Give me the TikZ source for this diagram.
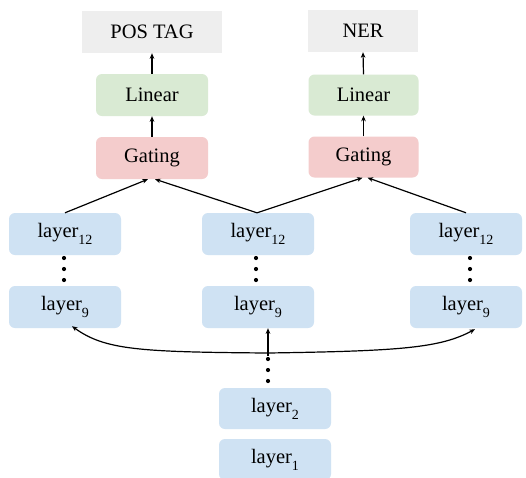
\documentclass[tikz,border=0pt]{standalone}
\usepackage{fontspec}
\setmainfont{Liberation Serif}
\usetikzlibrary{arrows.meta,calc}
\newcommand{\lsub}[1]{layer\raisebox{-0.35em}{\fontsize{14}{16}\selectfont #1}}
\begin{document}
\begin{tikzpicture}[x=1pt,y=-1pt,
  box/.style={inner sep=0pt, minimum width=112pt, minimum height=42pt, font=\fontsize{20.5}{24}\selectfont},
  outbox/.style={box, fill=outgrey},
  linbox/.style={box, fill=lingreen, rounded corners=6pt},
  gatbox/.style={box, fill=gatred, rounded corners=6pt},
  laybox/.style={box, fill=layblue, rounded corners=6pt},
  conn/.style={line width=1.2pt, -{Stealth[length=5.5pt,width=4.5pt,inset=1.5pt]}},
  plain/.style={line width=1.2pt},
  dotm/.style={circle, fill=black, inner sep=0pt, minimum size=4.2pt}]
\definecolor{outgrey}{HTML}{EEEEEE}
\definecolor{lingreen}{HTML}{D9EAD3}
\definecolor{gatred}{HTML}{F4CCCC}
\definecolor{layblue}{HTML}{CFE2F3}
\useasboundingbox (0,0) rectangle (526,477);
\fill[white] (0,0) rectangle (526,477);
% output boxes
\node[outbox, minimum width=140pt] (pos) at (152,32) {POS TAG};
\node[outbox, minimum width=110pt] (ner) at (363,31) {NER};
\node[linbox] (lin1) at (152,95) {Linear};
\node[linbox, minimum width=110pt, minimum height=41pt] (lin2) at (363.5,95) {Linear};
\node[gatbox] (gat1) at (152,158) {Gating};
\node[gatbox, minimum width=110pt, minimum height=41pt] (gat2) at (363.5,157) {Gating};
% layers
\node[laybox] (l12a) at (65,234) {\lsub{12}};
\node[laybox] (l12b) at (258,234) {\lsub{12}};
\node[laybox] (l12c) at (466,234) {\lsub{12}};
\node[laybox] (l9a) at (65,307) {\lsub{9}};
\node[laybox] (l9b) at (258,307) {\lsub{9}};
\node[laybox] (l9c) at (466,307) {\lsub{9}};
\node[laybox, minimum height=41pt] (l2) at (275,408.5) {\lsub{2}};
\node[laybox, minimum height=41pt] (l1) at (275,459.5) {\lsub{1}};
% dots
\foreach \xx/\nm in {64/a,256/b,470/c}{
  \node[dotm] (d1\nm) at (\xx,258) {};
  \node[dotm] (d2\nm) at (\xx,269) {};
  \node[dotm] (d3\nm) at (\xx,280) {};
}
\node[dotm] (e1) at (268,359) {};
\node[dotm] (e2) at (268,370) {};
\node[dotm] (e3) at (268,381) {};
% connectors up
\draw[conn] (lin1.north) -- (pos.south);
\draw[conn] (gat1.north) -- (lin1.south);
\draw[conn] (lin2.north) -- (ner.south);
\draw[conn] (gat2.north) -- (lin2.south);
\draw[conn] (l12a.north) -- ([xshift=-4pt]gat1.south);
\draw[conn] ([xshift=-1pt]l12b.north) -- ([xshift=3pt]gat1.south);
\draw[conn] ([xshift=-1pt]l12b.north) -- ([xshift=-1pt]gat2.south);
\draw[conn] (l12c.north) -- ([xshift=4pt]gat2.south);
% bottom branching
\coordinate (j) at (268,353);
\coordinate (jb) at (268,356);
\draw[conn] (jb) -- (j |- l9b.south);
\draw[conn] (j) .. controls (140,352) and (105,350) .. ([xshift=7pt,yshift=2pt]l9a.south);
\draw[conn] (j) .. controls (400,351) and (440,348) .. ([xshift=9pt,yshift=-1pt]l9c.south);
\end{tikzpicture}
\end{document}
